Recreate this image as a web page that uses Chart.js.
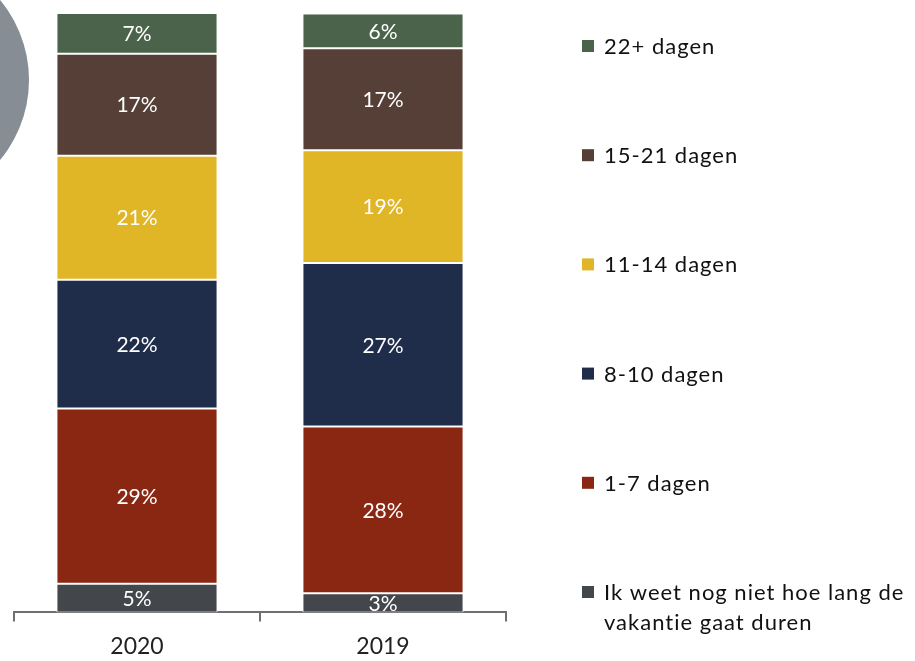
<!DOCTYPE html>
<html>
<head>
<meta charset="utf-8">
<script src="https://cdn.jsdelivr.net/npm/chart.js@4.4.1/dist/chart.umd.min.js"></script>
<style>
  html, body { margin: 0; padding: 0; background: #fff; overflow: hidden; }
  #wrap { position: relative; width: 915px; height: 661px; overflow: hidden; }
  #blob { position: absolute; left: -221px; top: -45px; width: 250px; height: 250px; border-radius: 50%; background: #878d95; }
  #chart { position: absolute; left: 0; top: 0; }
</style>
</head>
<body>
<div id="wrap">
  <div id="blob"></div>
  <canvas id="chart" width="915" height="661"></canvas>
</div>
<script>
// categories and series (stacked bottom to top)
const years = ['2020', '2019'];
const seriesNames = [
  ['Ik weet nog niet hoe lang de', 'vakantie gaat duren'],
  '1-7 dagen',
  '8-10 dagen',
  '11-14 dagen',
  '15-21 dagen',
  '22+ dagen'
];
const unknownVals = [4.8, 3.2];
const days1to7 = [29.2, 27.8];
const days8to10 = [21.5, 27.3];
const days11to14 = [20.7, 18.8];
const days15to21 = [17.0, 17.0];
const days22plus = [6.8, 5.8];
const colors = ['#43464b', '#8a2712', '#1f2d4a', '#e0b526', '#553f37', '#4b634b'];

const FONT = 'Lato, "Open Sans", sans-serif';
const allVals = [unknownVals, days1to7, days8to10, days11to14, days15to21, days22plus];

const datasets = allVals.map((vals, i) => ({
  label: seriesNames[i],
  data: vals,
  backgroundColor: colors[i],
  borderColor: '#ffffff',
  borderWidth: 1,
  borderSkipped: false,
  barPercentage: 0.655,
  categoryPercentage: 1
}));

// white % labels in the middle of every segment
const valueLabels = {
  id: 'valueLabels',
  afterDatasetsDraw(chart){
    const c = chart.ctx;
    c.save();
    c.fillStyle = '#ffffff';
    c.font = '21px ' + FONT;
    c.textAlign = 'center';
    c.textBaseline = 'middle';
    chart.data.datasets.forEach((ds, di) => {
      chart.getDatasetMeta(di).data.forEach((el, j) => {
        const p = el.getCenterPoint();
        c.fillText(Math.round(ds.data[j]) + '%', p.x, p.y + 1);
      });
    });
    c.restore();
  }
};

// legend on the right, top item = top of the stack
const sideLegend = {
  id: 'sideLegend',
  afterDraw(chart){
    const c = chart.ctx;
    const n = chart.data.datasets.length;
    c.save();
    c.font = '22px ' + FONT;
    c.letterSpacing = '1px';
    c.textBaseline = 'middle';
    for(let k=0;k<n;k++){
      const ds = chart.data.datasets[n-1-k];
      const y = 46 + k*109.2;
      c.fillStyle = ds.backgroundColor;
      c.fillRect(582, y-6, 12, 12);
      c.fillStyle = '#111';
      const lines = Array.isArray(ds.label) ? ds.label : [ds.label];
      lines.forEach((t, li) => c.fillText(t, 604, y + 1 + li*30));
    }
    c.restore();
  }
};

new Chart(document.getElementById('chart'), {
  type: 'bar',
  data: { labels: years, datasets },
  options: {
    responsive: false,
    animation: false,
    layout: { padding: { top: 13, left: 14, right: 409, bottom: -10 } },
    plugins: { legend: { display: false }, tooltip: { enabled: false } },
    scales: {
      x: {
        stacked: true,
        grid: { display: true, drawOnChartArea: false, drawTicks: true, tickLength: 9, color: '#6f6f6f', lineWidth: 2, offset: true },
        border: { display: true, color: '#6f6f6f', width: 2 },
        ticks: { color: '#222', font: { family: FONT, size: 23 }, padding: 11 }
      },
      y: { stacked: true, display: false, min: 0, max: 100 }
    }
  },
  plugins: [valueLabels, sideLegend]
});
</script>
</body>
</html>
